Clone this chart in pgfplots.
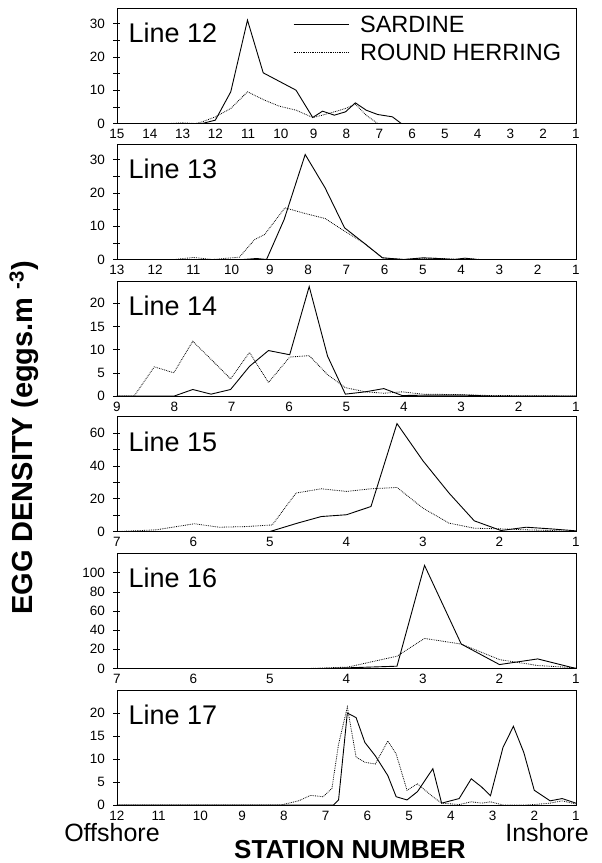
\documentclass[border=0pt]{standalone}
\usepackage{pgfplots}
\pgfplotsset{compat=1.18}
\usepackage{fontspec}
\setmainfont{Liberation Sans}
\begin{document}
\begin{tikzpicture}[x=1pt,y=1pt]
\useasboundingbox (0,0) rectangle (602,863);
\pgfplotsset{
  panel/.style={
    scale only axis, width=459pt, height=115pt,
    anchor=south west,
    x dir=reverse, xmin=1, ymin=0,
    axis line style={line width=0.7pt},
    xtick distance=1,
    major x tick style={draw=none},
    ytick pos=left, xtick pos=bottom,
    tick align=center,
    major tick length=7pt, minor tick length=7pt,
    tick style={line width=0.5pt, black},
    /pgf/number format/assume math mode=true,
    tick label style={font=\fontsize{13.5}{15}\selectfont},
    yticklabel style={xshift=-5pt},
    xticklabel style={yshift=1pt},
  },
  sard/.style={black, line width=0.9pt},
  herr/.style={black, densely dotted, line width=0.8pt},
}
\newcommand{\linelabel}[1]{\node[anchor=base west, font=\fontsize{27}{30}\selectfont, inner sep=0pt] at (axis description cs:0.025,0.70) {#1};}

% Line 12
\begin{axis}[panel, at={(117pt,739.5pt)}, xmax=15, ymax=34.5,
  ytick={0,10,20,30}, minor ytick={5,15,25},
  legend style={at={(axis description cs:0.3834,1)}, anchor=north west, yshift=-6pt,
    draw=none, fill=none, inner sep=0pt, row sep=8pt,
    font=\fontsize{23.5}{26}\selectfont, nodes={inner sep=1pt},
    /tikz/every odd column/.append style={column sep=10pt}},
  legend image code/.code={\draw[#1] (0pt,0pt) -- (55pt,0pt);},
  legend cell align=left]
\addplot[sard] coordinates {(15,0)(12.4,0)(12.0,1)(11.53,9.5)(11.02,31)(10.54,15.2)(9.54,10)(9.03,1.8)(8.73,3.7)(8.37,2.5)(8.03,3.5)(7.73,6.2)(7.4,4)(7.05,2.7)(6.6,2)(6.33,0)(1,0)};
\addlegendentry{SARDINE}
\addplot[herr] coordinates {(15,0)(13.4,0)(13,0.2)(12.6,0)(12.4,0.5)(12.0,2)(11.53,4.5)(11.02,9.5)(10.5,7)(10.05,5.2)(9.54,4)(9.03,1.8)(8.73,2.5)(8.37,3.5)(8.03,4.5)(7.73,5.8)(7.4,2.5)(7.05,0)(1,0)};
\addlegendentry{ROUND HERRING}
\linelabel{Line 12}
\end{axis}

% Line 13
\begin{axis}[panel, at={(117pt,603.5pt)}, xmax=13, ymax=34.5,
  ytick={0,10,20,30}, minor ytick={5,15,25}]
\addplot[sard] coordinates {(13,0)(9.7,0)(9.35,0.3)(9.09,0)(8.63,12)(8.08,31.5)(7.56,21.5)(7.05,9.5)(6.55,5)(6.06,0.5)(5.5,0)(5,0.5)(4.6,0.3)(4.2,0)(3.9,0.4)(3.6,0)(1,0)};
\addplot[herr] coordinates {(13,0)(11.5,0)(11,0.6)(10.5,0)(9.8,0.7)(9.4,6)(9.14,7.5)(8.61,15.5)(8.08,13.8)(7.56,12.3)(7.05,8.5)(6.55,5)(6.06,0.5)(5.5,0)(5,0.4)(4.5,0.3)(4,0)(3.8,0.3)(3.5,0)(1,0)};
\linelabel{Line 13}
\end{axis}

% Line 14
\begin{axis}[panel, at={(117pt,467pt)}, xmax=9, ymax=24.8,
  ytick={0,5,10,15,20}]
\addplot[sard] coordinates {(9,0)(8.0,0)(7.68,1.4)(7.36,0.4)(7.02,1.4)(6.69,6.4)(6.36,9.8)(5.99,8.9)(5.65,23.6)(5.33,8.6)(5.02,0.4)(4.67,0.9)(4.35,1.6)(4.03,0.1)(3.5,0.2)(3,0.2)(2.5,0)(1,0)};
\addplot[herr] coordinates {(9,0)(8.7,0)(8.35,6.3)(8.01,5)(7.68,11.8)(7.36,7.9)(7.02,3.7)(6.69,9.4)(6.36,2.9)(5.99,8.4)(5.65,8.7)(5.33,4.6)(5.02,1.8)(4.67,0.9)(4.35,0.6)(4.03,0.9)(3.68,0.4)(3.01,0.3)(2.5,0.1)(1,0)};
\linelabel{Line 14}
\end{axis}

% Line 15
\begin{axis}[panel, at={(117pt,331.5pt)}, xmax=7, ymax=70,
  ytick={0,20,40,60}, minor ytick={10,30,50}]
\addplot[sard] coordinates {(7,0)(5,0)(4.64,5.1)(4.33,9.1)(4.0,10.2)(3.68,15.2)(3.34,65.7)(3.0,43)(2.66,23.4)(2.33,6.5)(1.98,0.6)(1.65,2.6)(1.33,1.6)(1.0,0.4)};
\addplot[herr] coordinates {(7,0)(6.49,1)(5.99,4.7)(5.66,2.6)(5.31,3)(4.97,4)(4.66,23.4)(4.33,26)(4.0,24.4)(3.68,26)(3.34,26.8)(3.0,14.2)(2.66,5.1)(2.33,2)(1.98,1.6)(1.65,1)(1.33,0.6)(1,0)};
\linelabel{Line 15}
\end{axis}

% Line 16
\begin{axis}[panel, at={(117pt,194.5pt)}, xmax=7, ymax=120,
  ytick={0,20,40,60,80,100}]
\addplot[sard] coordinates {(7,0)(4.3,0)(3.99,0.7)(3.34,2.4)(2.98,107.6)(2.5,25.5)(2.0,4.1)(1.5,10)(1,0)};
\addplot[herr] coordinates {(7,0)(4.5,0)(3.99,1.4)(3.34,12.8)(2.98,31.4)(2.5,25.5)(2.0,9.3)(1.5,3.1)(1,0.7)};
\linelabel{Line 16}
\end{axis}

% Line 17
\begin{axis}[panel, at={(117pt,58pt)}, xmax=12, ymax=25,
  ytick={0,5,10,15,20}]
\addplot[sard] coordinates {(12,0)(6.81,0)(6.69,1.1)(6.48,20)(6.27,19)(6.06,13.6)(5.81,10.7)(5.51,6.4)(5.31,1.8)(5.05,1.1)(4.8,2.9)(4.43,7.9)(4.22,0.4)(3.8,1.4)(3.51,5.7)(3.26,3.9)(3.05,2)(2.75,12.5)(2.5,17.1)(2.25,11.4)(2.0,3.2)(1.62,0.9)(1.33,1.4)(1.0,0.4)};
\addplot[herr] coordinates {(12,0)(8.07,0)(7.65,0.9)(7.36,2.1)(7.06,1.8)(6.85,3.6)(6.69,13.2)(6.48,21.3)(6.27,10.4)(6.06,9.3)(5.81,8.9)(5.51,13.9)(5.31,11.1)(5.05,3.2)(4.8,4.6)(4.43,1.8)(4.22,0.4)(3.8,0.1)(3.51,0.7)(3.26,0.4)(3.05,0.7)(2.75,0)(2.25,0)(2.0,0.1)(1.62,0.4)(1.33,0.9)(1.0,0.2)};
\linelabel{Line 17}
\end{axis}

\node[rotate=90, font={\fontsize{29}{32}\selectfont\bfseries}] at (24,425) {EGG DENSITY (eggs.m \textsuperscript{-3})};
\node[font={\fontsize{25}{28}\selectfont}] at (112,30) {Offshore};
\node[font={\fontsize{25}{28}\selectfont}] at (547,30) {Inshore};
\node[font={\fontsize{26}{29}\selectfont\bfseries}] at (350,13) {STATION NUMBER};
\end{tikzpicture}
\end{document}
